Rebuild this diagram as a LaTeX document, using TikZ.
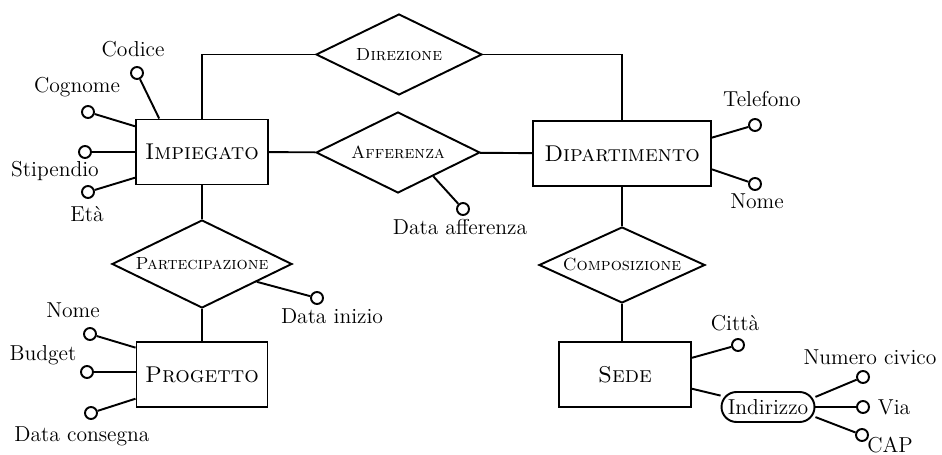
\documentclass[tikz,border=0pt]{standalone}
\usetikzlibrary{shapes.geometric}
\begin{document}
\begin{tikzpicture}[x=0.02cm,y=-0.02cm,line width=1.1pt,
  entity/.style={draw,rectangle,minimum height=1.3cm,font=\fontsize{13}{15}\selectfont\scshape},
  relation/.style={draw,diamond,aspect=2,inner sep=0pt,font=\fontsize{10}{12}\selectfont\scshape},
  attr/.style={draw,circle,fill=white,inner sep=0pt,minimum size=0.24cm},
  lbl/.style={anchor=base,inner sep=0pt,font=\fontsize{12.3}{14}\selectfont}]
\useasboundingbox (0,0) rectangle (942,455);
% entities
\node[entity,minimum width=2.64cm] (imp) at (202,152) {Impiegato};
\node[entity,minimum width=3.56cm] (dip) at (622,153.5) {Dipartimento};
\node[entity,minimum width=2.62cm] (prog) at (202,374.5) {Progetto};
\node[entity,minimum width=2.64cm] (sede) at (625,374.5) {Sede};
% relationships
\node[relation,minimum width=3.32cm,minimum height=1.62cm] (dir) at (399,54.5) {Direzione};
\node[relation,minimum width=3.28cm,minimum height=1.62cm] (aff) at (398,152.5) {Afferenza};
\node[relation,minimum width=3.6cm,minimum height=1.76cm] (par) at (202,264) {Partecipazione};
\node[relation,minimum width=3.32cm,minimum height=1.52cm] (comp) at (622,265) {Composizione};
\node[draw,rounded corners=0.3cm,minimum width=1.86cm,minimum height=0.6cm,inner sep=1pt,
  font=\fontsize{12.3}{14}\selectfont] (ind) at (768,407) {Indirizzo};
\draw (imp.north) |- (dir.west);
\draw (dir.east) -| (dip.north);
\draw (imp) -- (aff) -- (dip);
\draw (imp) -- (par) -- (prog);
\draw (dip) -- (comp);
\draw (comp.south) -- (comp.south |- sede.north);
% attributes
\node[attr] (codice) at (137,73) {};
\node[attr] (cognome) at (88,112) {};
\node[attr] (stipendio) at (85,152) {};
\node[attr] (eta) at (88,192) {};
\node[attr] (telefono) at (755,125) {};
\node[attr] (nomedip) at (755,184) {};
\node[attr] (dataaff) at (463,209) {};
\node[attr] (datainizio) at (317,298) {};
\node[attr] (nomeprog) at (90,334) {};
\node[attr] (budget) at (87,372) {};
\node[attr] (consegna) at (91,413) {};
\node[attr] (citta) at (738,345) {};
\node[attr] (numciv) at (863,377) {};
\node[attr] (via) at (863,407) {};
\node[attr] (cap) at (862,435) {};
\draw (codice) -- (imp.142);
\draw (cognome) -- (imp.159);
\draw (stipendio) -- (imp);
\draw (eta) -- (imp.201);
\draw (telefono) -- (dip.10);
\draw (nomedip) -- (dip.350);
\draw (dataaff) -- (aff.326);
\draw (datainizio) -- (par.342);
\draw (nomeprog) -- (prog.158);
\draw (budget) -- (budget -| prog.west);
\draw (consegna) -- (prog.200);
\draw (citta) -- (sede.14);
\draw (sede.348) -- (ind);
\draw (ind.12) -- (numciv);
\draw (ind) -- (via);
\draw (ind.348) -- (cap);
% labels
\node[lbl] (tcodice) at (133,57) {Codice};
\node[lbl] (tcognome) at (77,93) {Cognome};
\node[lbl] (tstipendio) at (55,177) {Stipendio};
\node[lbl] (teta) at (87,222) {Età};
\node[lbl] (ttelefono) at (762,107) {Telefono};
\node[lbl] (tnomedip) at (757,209) {Nome};
\node[lbl] (tdataaff) at (460,235) {Data afferenza};
\node[lbl] (tdatainizio) at (332,324) {Data inizio};
\node[lbl] (tnomeprog) at (73,318) {Nome};
\node[lbl] (tbudget) at (43,360) {Budget};
\node[lbl] (tconsegna) at (82,441) {Data consegna};
\node[lbl] (tcitta) at (735,331) {Città};
\node[lbl] (tnumciv) at (870,364) {Numero civico};
\node[lbl,anchor=base west] (tvia) at (877,414) {Via};
\node[lbl] (tcap) at (890,452) {CAP};
\end{tikzpicture}
\end{document}
